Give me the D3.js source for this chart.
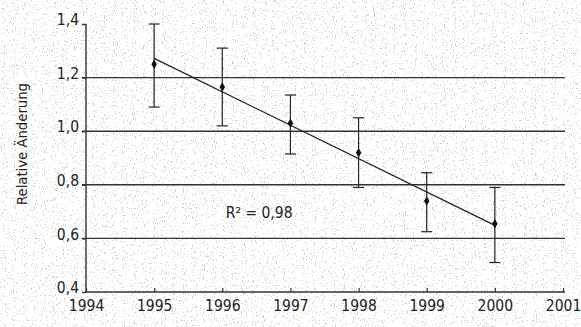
<!DOCTYPE html>
<html>
<head>
<meta charset="utf-8">
<script src="https://cdn.jsdelivr.net/npm/d3@7"></script>
<style>
  body { margin: 0; background: #fff; }
  svg text { font-family: "DejaVu Sans Condensed", "DejaVu Sans", sans-serif; fill: #222; }
</style>
</head>
<body>
<div id="chart"></div>
<script>
// ... values
const years = [1995, 1996, 1997, 1998, 1999, 2000];
const means = [1.25, 1.165, 1.03, 0.92, 0.74, 0.655];
const upper = [1.40, 1.31, 1.135, 1.05, 0.845, 0.79];
const lower = [1.09, 1.02, 0.915, 0.79, 0.625, 0.51];
const xTicks = [1994, 1995, 1996, 1997, 1998, 1999, 2000, 2001];
const yTicks = [0.4, 0.6, 0.8, 1.0, 1.2, 1.4];
const gridValues = [0.6, 0.8, 1.0, 1.2];
const r2Label = 'R² = 0,98';

const W = 581, H = 327;
const margin = { top: 24, right: 18, bottom: 35, left: 86 };
const width = W - margin.left - margin.right;
const height = H - margin.top - margin.bottom;

const x = d3.scaleLinear().domain([1994, 2001]).range([0, width]);
const y = d3.scaleLinear().domain([0.4, 1.4]).range([height, 0]);
const fmt = d => d3.format('.1f')(d).replace('.', ',');

const svg = d3.select('#chart').append('svg')
    .attr('width', W)
    .attr('height', H);

// ... speckled paper background
const defs = svg.append('defs');
const f = defs.append('filter').attr('id', 'speckle')
    .attr('x', 0).attr('y', 0).attr('width', '100%').attr('height', '100%');
f.append('feTurbulence')
    .attr('type', 'fractalNoise')
    .attr('baseFrequency', '0.9 0.6')
    .attr('numOctaves', 2)
    .attr('seed', 3)
    .attr('result', 'noise');
f.append('feColorMatrix')
    .attr('type', 'matrix')
    .attr('values', '0 0 0 0 0.3  0 0 0 0 0.3  0 0 0 0 0.3  -12 0 0 0 4.5')
    .attr('in', 'noise');

svg.append('rect')
    .attr('width', W).attr('height', H)
    .attr('fill', '#fff');
svg.append('rect')
    .attr('width', W).attr('height', H)
    .attr('filter', 'url(#speckle)')
    .attr('opacity', 0.45);

const g = svg.append('g')
    .attr('transform', 'translate(' + margin.left + ',' + margin.top + ')');

// ... grid lines
g.append('g')
    .selectAll('line')
    .data(gridValues)
    .join('line')
    .attr('x1', -4).attr('x2', width + 2)
    .attr('y1', d => y(d)).attr('y2', d => y(d))
    .attr('stroke', '#333')
    .attr('stroke-width', 1.4);

// ... y axis
const yAxis = g.append('g')
    .call(d3.axisLeft(y).tickValues(yTicks).tickSize(4).tickFormat(fmt));
yAxis.select('.domain').attr('stroke', '#333').attr('stroke-width', 1.4).attr('d', 'M0,0V' + height);
yAxis.selectAll('.tick line').attr('stroke', '#333').attr('stroke-width', 1.4);
yAxis.selectAll('.tick text')
    .attr('x', -7)
    .attr('dy', '0.05em')
    .style('font-size', '15.5px');

// ... x axis
const xAxis = g.append('g')
    .attr('transform', 'translate(0,' + height + ')')
    .call(d3.axisBottom(x).tickValues(xTicks).tickSize(-4).tickFormat(d3.format('d')));
xAxis.select('.domain').attr('stroke', '#333').attr('stroke-width', 1.4).attr('d', 'M0,0H' + (width + 2));
xAxis.selectAll('.tick line').attr('stroke', '#333').attr('stroke-width', 1.2);
xAxis.selectAll('.tick text')
    .attr('y', 8)
    .style('font-size', '15.5px');

// ... y axis title
svg.append('text')
    .attr('transform', 'translate(27,144) rotate(-90)')
    .attr('text-anchor', 'middle')
    .attr('textLength', 122)
    .attr('lengthAdjust', 'spacingAndGlyphs')
    .style('font-size', '14px')
    .text('Relative Änderung');

// ... regression line from the points
const mx = d3.mean(years), my = d3.mean(means);
const slope = d3.sum(years, (d, i) => (d - mx) * (means[i] - my)) / d3.sum(years, d => (d - mx) * (d - mx));
const icpt = my - slope * mx;
const ends = [years[0], years[years.length - 1]];
g.append('path')
    .datum(ends)
    .attr('d', d3.line().x(d => x(d)).y(d => y(icpt + slope * d)))
    .attr('stroke', '#222')
    .attr('stroke-width', 1.3)
    .attr('fill', 'none');

// ... error bars
const bars = g.append('g').selectAll('g')
    .data(years)
    .join('g')
    .attr('stroke', '#222')
    .attr('stroke-width', 1.2);
bars.append('line')
    .attr('x1', d => x(d)).attr('x2', d => x(d))
    .attr('y1', (d, i) => y(upper[i])).attr('y2', (d, i) => y(lower[i]));
bars.append('line')
    .attr('x1', d => x(d) - 5.5).attr('x2', d => x(d) + 5.5)
    .attr('y1', (d, i) => y(upper[i])).attr('y2', (d, i) => y(upper[i]));
bars.append('line')
    .attr('x1', d => x(d) - 5.5).attr('x2', d => x(d) + 5.5)
    .attr('y1', (d, i) => y(lower[i])).attr('y2', (d, i) => y(lower[i]));

// ... mean points
g.append('g').selectAll('path')
    .data(years)
    .join('path')
    .attr('transform', (d, i) => 'translate(' + x(d) + ',' + y(means[i]) + ')')
    .attr('d', d3.symbol(d3.symbolDiamond, 26))
    .attr('fill', '#111');

// ... R² annotation
g.append('text')
    .attr('x', x(1996.05))
    .attr('y', y(0.675))
    .style('font-size', '15.5px')
    .text(r2Label);
</script>
</body>
</html>
